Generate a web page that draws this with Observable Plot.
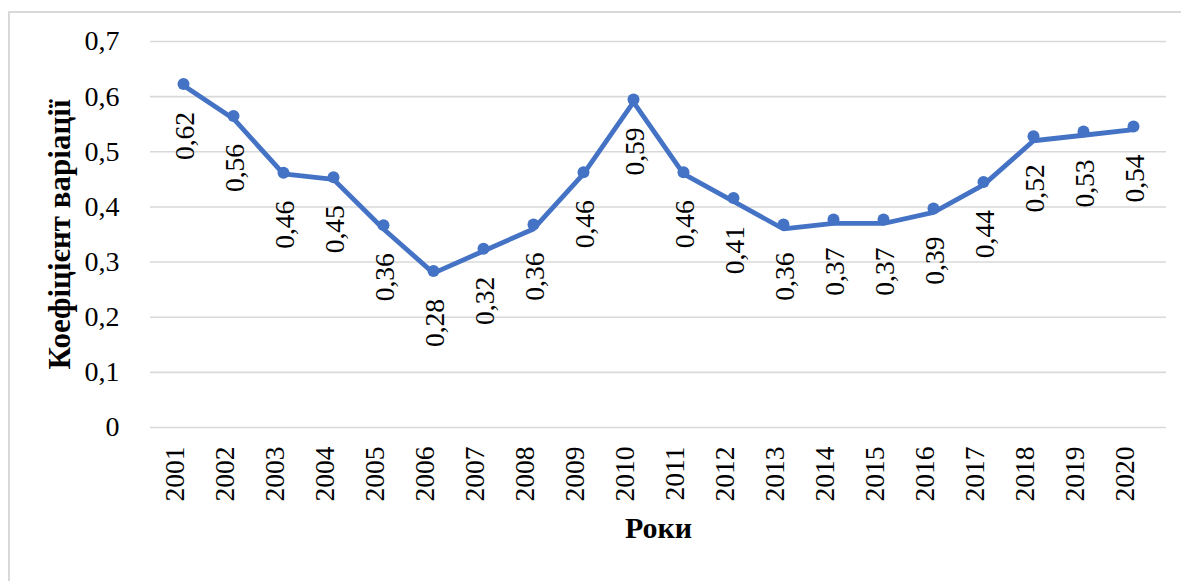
<!DOCTYPE html>
<html>
<head>
<meta charset="utf-8">
<script src="https://cdn.jsdelivr.net/npm/d3@7"></script>
<script src="https://cdn.jsdelivr.net/npm/@observablehq/plot@0.6"></script>
<style>
  html, body { margin: 0; padding: 0; background: #fff; }
  #wrap { position: relative; width: 1181px; height: 581px; overflow: hidden; }
  #frame { position: absolute; left: 8px; top: 11px; right: -10px; bottom: -10px;
           border-left: 2px solid #d9d9d9; border-top: 2px solid #d9d9d9; pointer-events: none; }
  #chart { position: absolute; left: 0; top: 0; }
  #chart svg, #chart svg text { font-family: "Times New Roman", "Liberation Serif", "DejaVu Serif", serif !important; }
</style>
</head>
<body>
<div id="wrap"><div id="chart"></div><div id="frame"></div></div>
<script>
const years = ["2001","2002","2003","2004","2005","2006","2007","2008","2009","2010",
               "2011","2012","2013","2014","2015","2016","2017","2018","2019","2020"];
// line values (shown as data labels)
const values = [0.62,0.56,0.46,0.45,0.36,0.28,0.32,0.36,0.46,0.59,
                0.46,0.41,0.36,0.37,0.37,0.39,0.44,0.52,0.53,0.54];
// marker positions
const markerValues = [0.623,0.565,0.462,0.454,0.367,0.284,0.324,0.368,0.463,0.595,
                      0.463,0.416,0.368,0.377,0.377,0.397,0.445,0.528,0.537,0.546];
const yTicks = [0,0.1,0.2,0.3,0.4,0.5,0.6,0.7];
const yTitle = "Коефіцієнт варіації";
const xTitle = "Роки";

const fmt = d => d === 0 ? "0" : String(d).replace(".", ",");
const lineData = years.map((y, i) => ({year: y, v: values[i]}));
const markData = years.map((y, i) => ({year: y, v: markerValues[i], label: fmt(values[i])}));
const blue = "#4472C4";
const font = "Times New Roman, Liberation Serif, DejaVu Serif, serif";

const chart = Plot.plot({
  width: 1181,
  height: 581,
  marginLeft: 150,
  marginRight: 15,
  marginTop: 41,
  marginBottom: 154,
  style: {fontFamily: font, background: "transparent", color: "#000", overflow: "visible"},
  x: {type: "band", domain: years, padding: 0, axis: null},
  y: {domain: [0, 0.7], axis: null},
  marks: [
    Plot.gridY(yTicks, {stroke: "#d9d9d9", strokeOpacity: 1, strokeWidth: 1.6}),
    Plot.text(yTicks, {y: d => d, text: fmt, frameAnchor: "left", dx: -31, textAnchor: "end",
                       fontSize: 28, fontFamily: font, fill: "#000"}),
    Plot.text(years, {x: d => d, text: d => d, frameAnchor: "bottom", dy: 19, rotate: -90,
                      textAnchor: "end", fontSize: 27.5, fontFamily: font, fill: "#000"}),
    Plot.line(lineData, {x: "year", y: "v", stroke: blue, strokeWidth: 4.8, strokeLinejoin: "miter"}),
    Plot.dot(markData, {x: "year", y: "v", r: 6, fill: blue, stroke: "none"}),
    Plot.text(markData, {x: "year", y: "v", text: "label", rotate: -90, textAnchor: "end",
                         dy: 28, dx: 2, fontSize: 27.5, fontFamily: font, fill: "#000"}),
    Plot.text([yTitle], {frameAnchor: "left", dx: -90, rotate: -90, textAnchor: "middle", fontSize: 31,
                         fontFamily: font, fontWeight: "bold", fill: "#000"}),
    Plot.text([xTitle], {frameAnchor: "bottom", dy: 110, textAnchor: "middle", fontSize: 30,
                         fontFamily: font, fontWeight: "bold", fill: "#000"})
  ]
});
document.getElementById("chart").appendChild(chart);
</script>
</body>
</html>
